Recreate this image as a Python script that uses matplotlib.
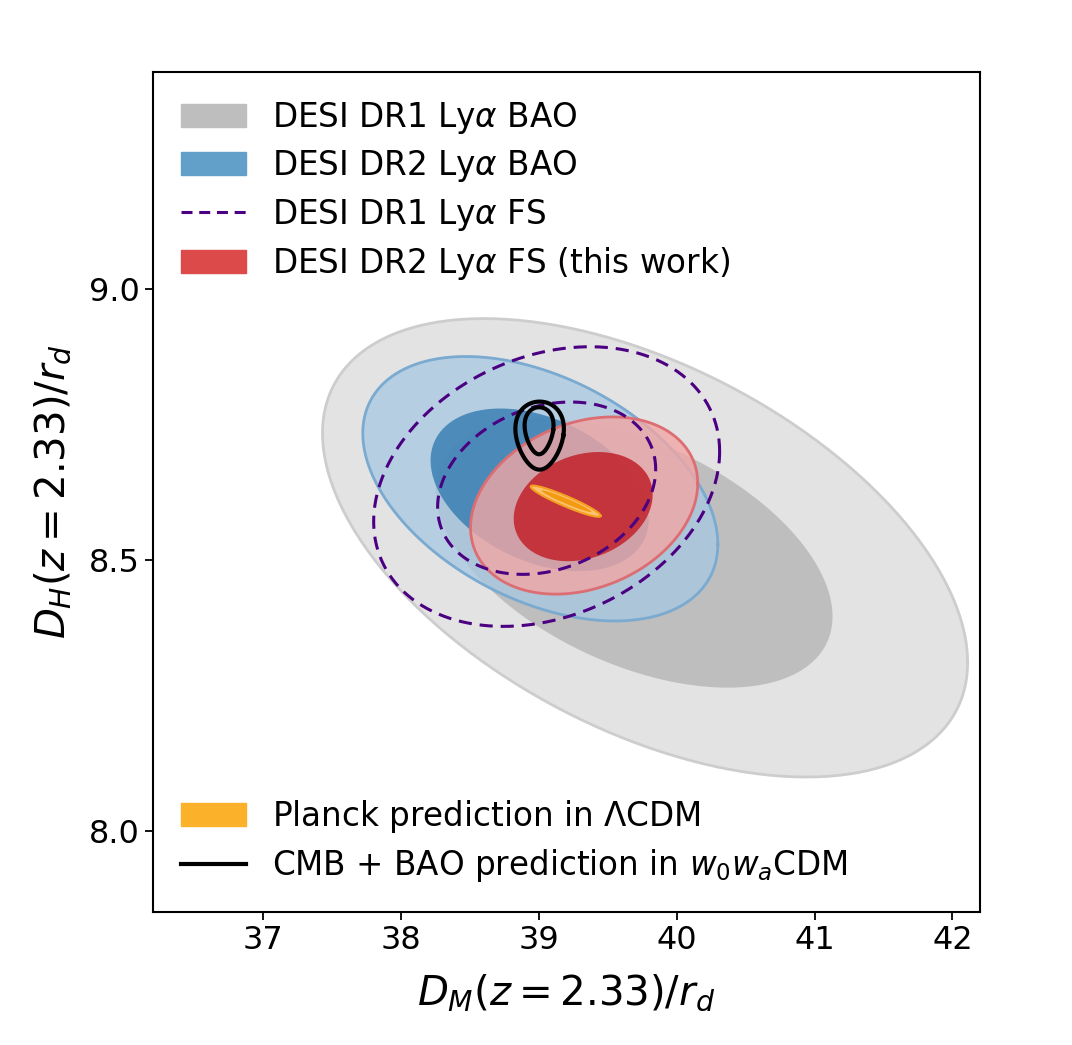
import numpy as np
import matplotlib.pyplot as plt
from matplotlib.patches import Patch
from matplotlib.lines import Line2D

# Contours. For each data set: [68%, 95%] levels,
# centre (x, y), half-extent along x and y, and correlation coefficient.
dr1_bao_x = [39.69, 39.77]
dr1_bao_y = [8.512, 8.522]
dr1_bao_sx = [1.44, 2.34]
dr1_bao_sy = [0.248, 0.423]
dr1_bao_rho = [-0.47, -0.50]

dr2_bao_x = [39.005, 39.01]
dr2_bao_y = [8.629, 8.631]
dr2_bao_sx = [0.791, 1.288]
dr2_bao_sy = [0.150, 0.244]
dr2_bao_rho = [-0.36, -0.42]

dr1_fs_x = [39.056, 39.056]
dr1_fs_y = [8.632, 8.635]
dr1_fs_sx = [0.791, 1.255]
dr1_fs_sy = [0.159, 0.258]
dr1_fs_rho = [0.22, 0.25]

dr2_fs_x = [39.321, 39.328]
dr2_fs_y = [8.598, 8.600]
dr2_fs_sx = [0.504, 0.824]
dr2_fs_sy = [0.1007, 0.1635]
dr2_fs_rho = [0.22, 0.25]

planck_x = [39.20, 39.194]
planck_y = [8.608, 8.608]
planck_sx = [0.181, 0.254]
planck_sy = [0.020, 0.0288]
planck_rho = [-0.967, -0.936]

# CMB + BAO contours are egg shaped (wider at the top)
w0wa_x = [39.001, 39.005]
w0wa_y = [8.738, 8.729]
w0wa_sx = [0.102, 0.172]
w0wa_sy = [0.0434, 0.0628]
w0wa_rho = [0.0, 0.0]
w0wa_egg = [0.25, 0.22]

top_labels = [r"DESI DR1 Ly$\alpha$ BAO", r"DESI DR2 Ly$\alpha$ BAO",
              r"DESI DR1 Ly$\alpha$ FS", r"DESI DR2 Ly$\alpha$ FS (this work)"]
bottom_labels = [r"Planck prediction in $\Lambda$CDM",
                 r"CMB + BAO prediction in $w_0w_a$CDM"]

xticks = [37, 38, 39, 40, 41, 42]
yticks = [8.0, 8.5, 9.0]


def contour_xy(x0, y0, sx, sy, rho, egg=0.0, n=300):
    t = np.linspace(0, 2 * np.pi, n)
    u, v = np.cos(t), np.sin(t)
    u = u * (1 + egg * v)
    return x0 + sx * u, y0 + sy * (rho * u + np.sqrt(1 - rho ** 2) * v)


def level(xs, ys, sxs, sys_, rhos, i, eggs=None):
    egg = eggs[i] if eggs is not None else 0.0
    return contour_xy(xs[i], ys[i], sxs[i], sys_[i], rhos[i], egg)


fig = plt.figure(figsize=(10.72, 10.45), dpi=100)
ax = fig.add_axes([0.1427, 0.1273, 0.7715, 0.8038])

# DR1 BAO (gray)
x, y = level(dr1_bao_x, dr1_bao_y, dr1_bao_sx, dr1_bao_sy, dr1_bao_rho, 1)
ax.fill(x, y, color="#e3e3e3", lw=0, zorder=1)
ax.plot(x, y, color="#cdcdcd", lw=2, zorder=1)
x, y = level(dr1_bao_x, dr1_bao_y, dr1_bao_sx, dr1_bao_sy, dr1_bao_rho, 0)
ax.fill(x, y, color="#bebebe", lw=0, zorder=1)

# DR2 BAO (blue)
x, y = level(dr2_bao_x, dr2_bao_y, dr2_bao_sx, dr2_bao_sy, dr2_bao_rho, 1)
ax.fill(x, y, color="#a6c8e2", alpha=0.75, lw=0, zorder=2)
ax.plot(x, y, color="#7aaad0", lw=2, zorder=2)
x, y = level(dr2_bao_x, dr2_bao_y, dr2_bao_sx, dr2_bao_sy, dr2_bao_rho, 0)
ax.fill(x, y, color="#3a80b3", alpha=0.85, lw=0, zorder=2)

# DR2 FS (red)
x, y = level(dr2_fs_x, dr2_fs_y, dr2_fs_sx, dr2_fs_sy, dr2_fs_rho, 1)
ax.fill(x, y, color="#f1a6a5", alpha=0.8, lw=0, zorder=3)
ax.plot(x, y, color="#dc6e73", lw=2, zorder=3)
x, y = level(dr2_fs_x, dr2_fs_y, dr2_fs_sx, dr2_fs_sy, dr2_fs_rho, 0)
ax.fill(x, y, color="#c22b33", alpha=0.92, lw=0, zorder=3)

# DR1 FS (dashed)
for i in range(2):
    x, y = level(dr1_fs_x, dr1_fs_y, dr1_fs_sx, dr1_fs_sy, dr1_fs_rho, i)
    ax.plot(x, y, color="#4b0082", lw=2.2, ls=(0, (4.3, 2.6)), zorder=4)

# Planck LCDM (orange)
x, y = level(planck_x, planck_y, planck_sx, planck_sy, planck_rho, 1)
ax.fill(x, y, color="#fbc370", lw=0, zorder=5)
ax.plot(x, y, color="#f5a020", lw=1.5, zorder=5)
x, y = level(planck_x, planck_y, planck_sx, planck_sy, planck_rho, 0)
ax.fill(x, y, color="#f39a12", lw=0, zorder=5)

# CMB + BAO w0wa (black)
for i in range(2):
    x, y = level(w0wa_x, w0wa_y, w0wa_sx, w0wa_sy, w0wa_rho, i, w0wa_egg)
    ax.plot(x, y, color="black", lw=3, zorder=6)

ax.set_xlim(36.2, 42.2)
ax.set_ylim(7.85, 9.4)
ax.set_xticks(xticks)
ax.set_yticks(yticks)
ax.tick_params(labelsize=23, length=6, width=1.3, direction="out")
for s in ax.spines.values():
    s.set_linewidth(1.5)
ax.set_xlabel(r"$D_M(z = 2.33)/r_d$", fontsize=29, labelpad=12)
ax.set_ylabel(r"$D_H(z = 2.33)/r_d$", fontsize=29, labelpad=11)

top_handles = [Patch(color="#bebebe"), Patch(color="#62a0ca"),
               Line2D([], [], color="#4b0082", lw=2.2, ls=(0, (3.6, 2.2))),
               Patch(color="#dc4a4a")]
leg1 = ax.legend(top_handles, top_labels, loc="upper left", fontsize=23.5,
                 frameon=False, handlelength=2.0, handletextpad=0.8,
                 labelspacing=0.38, borderaxespad=0.45)
ax.add_artist(leg1)
bottom_handles = [Patch(color="#fbb12a"), Line2D([], [], color="black", lw=3)]
ax.legend(bottom_handles, bottom_labels, loc="lower left", fontsize=23.5,
          frameon=False, handlelength=2.0, handletextpad=0.8,
          labelspacing=0.38, borderaxespad=0.45)

fig.savefig("out.png", dpi=100)
